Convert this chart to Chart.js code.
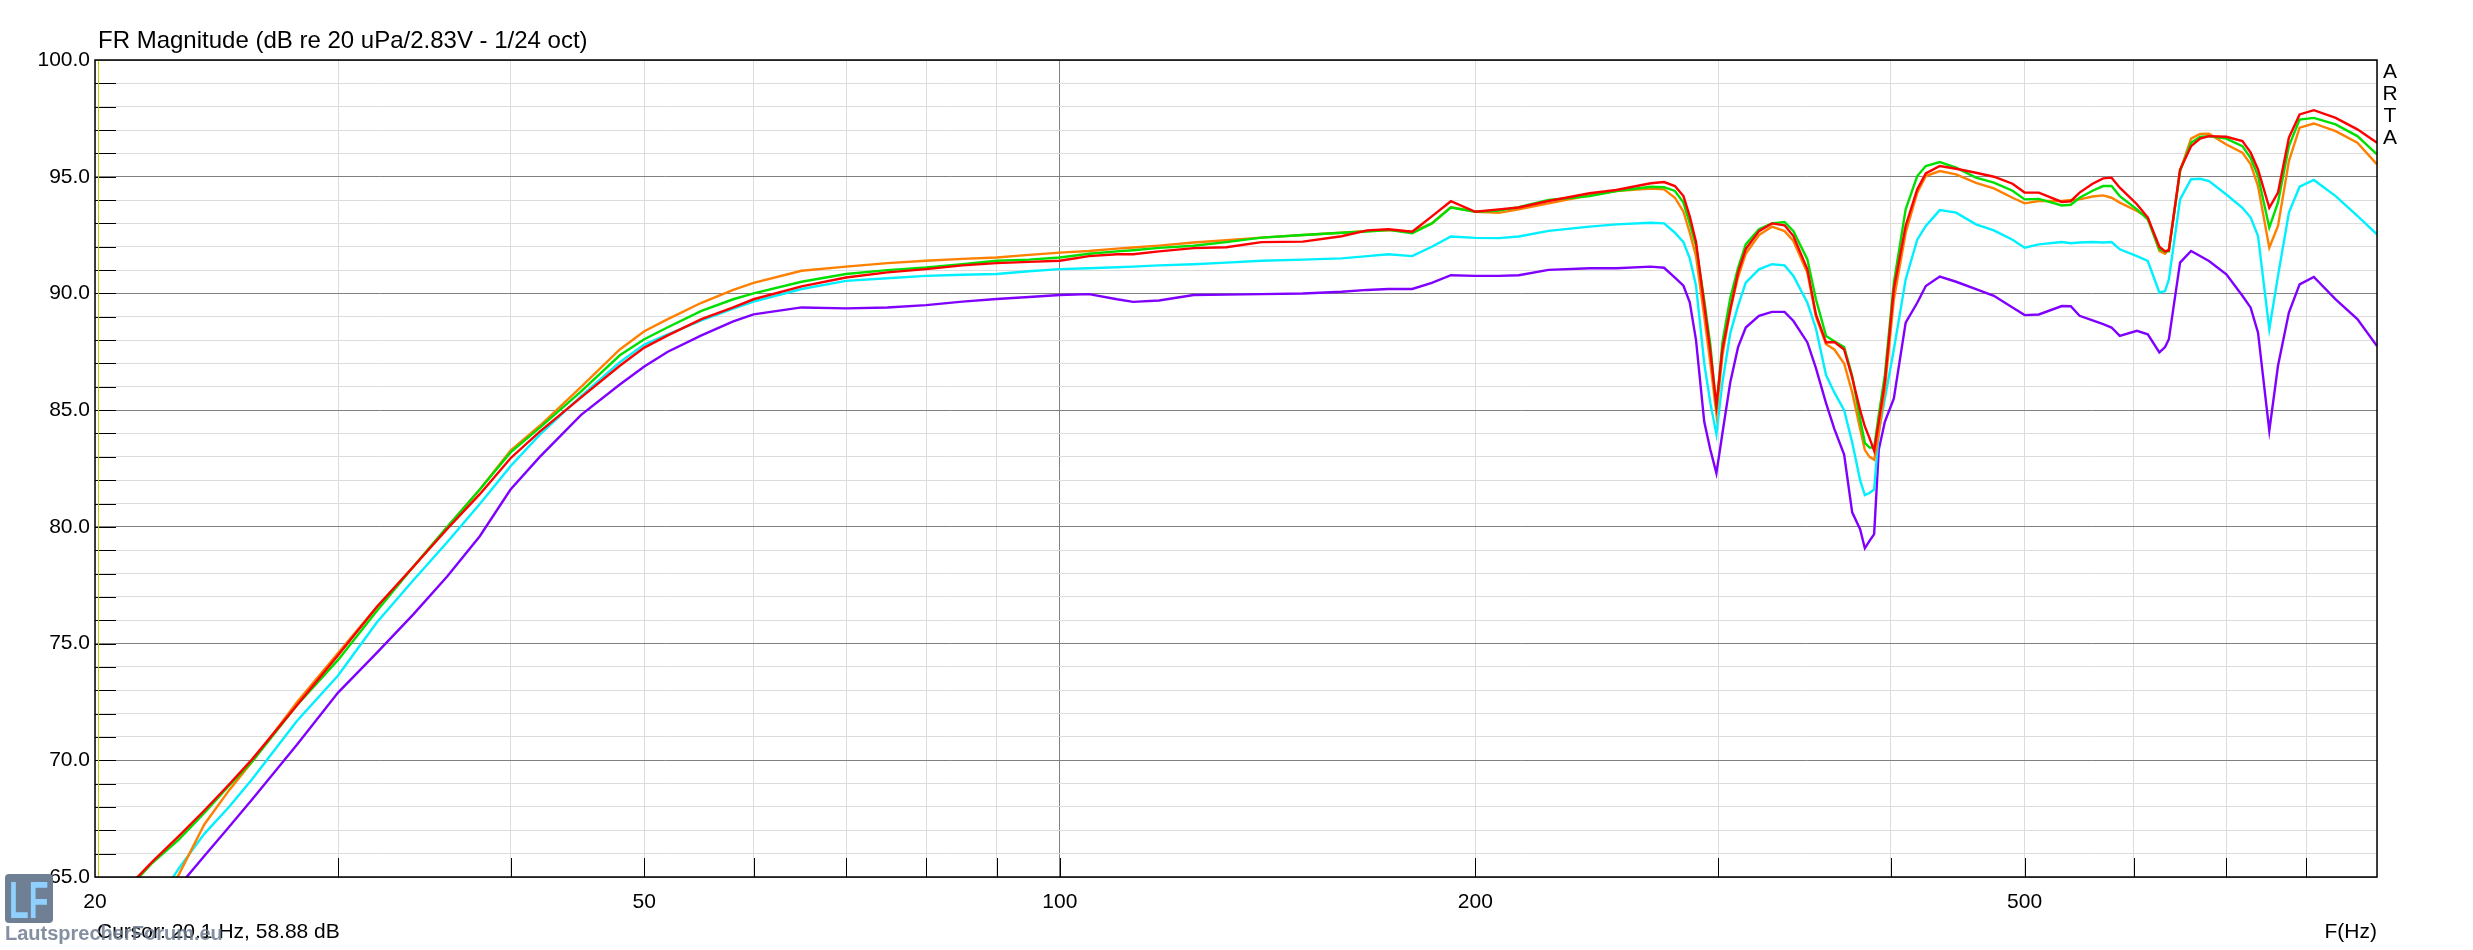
<!DOCTYPE html>
<html>
<head>
<meta charset="utf-8">
<title>FR Magnitude</title>
<script src="https://cdn.jsdelivr.net/npm/chart.js@4.4.1/dist/chart.umd.min.js"></script>
<style>
    body { margin: 0; background: #ffffff; }
    #wrap { width: 2473px; height: 950px; position: relative; }
</style>
</head>
<body>
<div id="wrap"><canvas id="frChart"></canvas></div>
<script>
// frequency points (Hz)
const freqHz = [
    20, 21, 22, 23, 24, 25, 26, 28, 30, 32,
    34, 36, 38, 40, 42, 45, 48, 50, 52, 55,
    58, 60, 65, 70, 75, 80, 85, 90, 95, 100,
    105, 110, 113, 118, 125, 132, 140, 150, 160, 167,
    173, 180, 186, 192, 200, 208, 215, 226, 242, 253,
    268, 274, 279, 283, 286, 289, 293, 296, 299, 302,
    306, 310, 314, 321, 328, 335, 340, 348, 353, 359,
    364, 370, 375, 380, 383, 386, 389, 392, 396, 402,
    410, 418, 424, 434, 446, 461, 475, 490, 500, 512,
    532, 540, 548, 560, 570, 578, 586, 603, 614, 626,
    632, 636, 648, 660, 670, 680, 700, 719, 729, 738,
    752, 763, 777, 791, 810, 840, 871, 900
];

// SPL in dB for each measurement
const splRed = [
    63.0, 64.4, 65.65, 66.75, 67.85, 68.95, 70.05, 72.35, 74.5, 76.57,
    78.28, 79.92, 81.4, 82.94, 84.08, 85.55, 86.9, 87.68, 88.2, 88.9,
    89.4, 89.75, 90.3, 90.68, 90.9, 91.04, 91.2, 91.3, 91.35, 91.4,
    91.6, 91.68, 91.68, 91.8, 91.94, 91.98, 92.2, 92.22, 92.45, 92.7,
    92.75, 92.64, 93.3, 93.95, 93.5, 93.6, 93.68, 93.96, 94.29, 94.43,
    94.72, 94.77, 94.6, 94.17, 93.3, 92.2, 89.5, 87.5, 85.2, 87.6,
    89.3, 90.9, 91.9, 92.67, 93.0, 92.92, 92.46, 91.03, 89.1, 87.9,
    87.92, 87.6, 86.4, 85.0, 84.3, 83.8, 83.26, 84.5, 86.2, 90.2,
    92.9, 94.46, 95.14, 95.46, 95.34, 95.17, 95.0, 94.7, 94.32, 94.32,
    93.92, 93.95, 94.32, 94.7, 94.93, 94.96, 94.53, 93.82, 93.25, 92.0,
    91.8, 91.85, 95.31, 96.31, 96.63, 96.74, 96.71, 96.53, 96.03, 95.31,
    93.67, 94.32, 96.67, 97.67, 97.85, 97.52, 97.03, 96.46
];
const splGreen = [
    62.9, 64.3, 65.6, 66.6, 67.75, 68.9, 69.95, 72.35, 74.3, 76.4,
    78.28, 80.0, 81.6, 83.19, 84.25, 85.8, 87.35, 88.04, 88.55, 89.25,
    89.75, 90.0, 90.5, 90.83, 91.0, 91.11, 91.25, 91.4, 91.45, 91.54,
    91.7, 91.8, 91.85, 91.95, 92.04, 92.2, 92.39, 92.5, 92.6, 92.65,
    92.72, 92.58, 93.0, 93.68, 93.5, 93.55, 93.7, 94.0, 94.17, 94.39,
    94.57, 94.55, 94.39, 93.89, 93.0, 92.04, 89.7, 87.8, 85.04, 87.9,
    89.8, 91.1, 92.1, 92.75, 93.0, 93.06, 92.67, 91.46, 89.75, 88.18,
    87.95, 87.7, 86.47, 84.6, 83.6, 83.4, 83.4, 84.8, 86.5, 90.46,
    93.6, 95.03, 95.46, 95.63, 95.39, 94.96, 94.75, 94.4, 94.03, 94.05,
    93.77, 93.8, 94.1, 94.4, 94.6, 94.6, 94.17, 93.6, 93.17, 91.89,
    91.8, 91.8, 95.24, 96.45, 96.71, 96.74, 96.63, 96.31, 95.8, 95.03,
    92.82, 93.9, 96.31, 97.45, 97.52, 97.24, 96.74, 95.96
];
const splOrange = [
    58.9, 61.2, 63.2, 65.1, 67.25, 68.7, 69.95, 72.48, 74.6, 76.57,
    78.28, 80.0, 81.6, 83.27, 84.33, 86.0, 87.6, 88.38, 88.9, 89.6,
    90.15, 90.45, 90.97, 91.15, 91.3, 91.4, 91.48, 91.54, 91.65, 91.75,
    91.82, 91.92, 91.97, 92.05, 92.18, 92.28, 92.39, 92.5, 92.6, 92.68,
    92.72, 92.64, 93.0, 93.7, 93.5, 93.45, 93.6, 93.86, 94.2, 94.39,
    94.49, 94.46, 94.1, 93.5, 92.6, 91.6, 89.0, 87.0, 84.83, 87.33,
    89.3, 90.7, 91.7, 92.5, 92.86, 92.67, 92.25, 90.89, 89.0, 87.82,
    87.6, 87.0, 85.76, 84.2, 83.3, 83.0, 82.87, 84.0, 85.9, 89.75,
    92.6, 94.32, 95.03, 95.24, 95.1, 94.74, 94.5, 94.1, 93.86, 93.96,
    93.96, 94.0, 94.03, 94.15, 94.2, 94.1, 93.89, 93.53, 93.25, 91.82,
    91.7, 91.9, 95.24, 96.63, 96.83, 96.84, 96.38, 96.03, 95.53, 94.6,
    91.96, 92.89, 95.67, 97.1, 97.28, 96.95, 96.46, 95.53
];
const splCyan = [
    60.4, 62.0, 63.6, 65.37, 66.85, 67.99, 69.2, 71.67, 73.63, 75.9,
    77.7, 79.35, 80.98, 82.6, 83.95, 85.6, 87.05, 87.81, 88.25, 88.85,
    89.35, 89.65, 90.19, 90.54, 90.65, 90.75, 90.8, 90.83, 90.95, 91.04,
    91.08, 91.12, 91.15, 91.2, 91.25, 91.32, 91.4, 91.45, 91.5, 91.6,
    91.68, 91.6, 92.0, 92.44, 92.38, 92.37, 92.44, 92.68, 92.86, 92.96,
    93.03, 93.0, 92.6, 92.2, 91.5, 90.33, 87.0, 85.3, 83.97, 86.18,
    88.3, 89.47, 90.46, 91.03, 91.25, 91.2, 90.75, 89.6, 88.5, 86.5,
    85.76, 85.0, 83.62, 82.0, 81.36, 81.45, 81.6, 84.04, 85.5, 87.6,
    90.6, 92.3, 92.89, 93.57, 93.46, 92.96, 92.7, 92.3, 91.96, 92.1,
    92.2, 92.15, 92.18, 92.2, 92.18, 92.2, 91.89, 91.6, 91.39, 90.04,
    90.1, 90.6, 94.03, 94.89, 94.91, 94.81, 94.24, 93.67, 93.25, 92.46,
    88.47, 90.75, 93.46, 94.57, 94.86, 94.17, 93.32, 92.53
];
const splPurple = [
    60.3, 61.7, 63.2, 64.6, 65.9, 67.13, 68.33, 70.65, 72.9, 74.6,
    76.24, 77.88, 79.6, 81.6, 83.0, 84.8, 86.1, 86.87, 87.5, 88.2,
    88.8, 89.1, 89.4, 89.36, 89.4, 89.5, 89.65, 89.76, 89.85, 89.93,
    89.97, 89.75, 89.64, 89.7, 89.93, 89.95, 89.97, 90.0, 90.07, 90.15,
    90.19, 90.19, 90.45, 90.78, 90.75, 90.75, 90.78, 91.01, 91.08, 91.08,
    91.15, 91.1, 90.68, 90.33, 89.62, 88.0, 84.5, 83.3, 82.3, 84.0,
    86.2, 87.7, 88.54, 89.04, 89.21, 89.21, 88.82, 87.9, 86.8, 85.3,
    84.2, 83.1, 80.62, 79.9, 79.08, 79.4, 79.69, 83.3, 84.5, 85.5,
    88.75, 89.6, 90.32, 90.72, 90.5, 90.18, 89.9, 89.4, 89.07, 89.1,
    89.46, 89.45, 89.04, 88.85, 88.68, 88.54, 88.18, 88.4, 88.25, 87.47,
    87.7, 88.04, 91.32, 91.82, 91.6, 91.39, 90.82, 89.9, 89.39, 88.32,
    84.12, 86.9, 89.18, 90.39, 90.71, 89.75, 88.9, 87.75
];

// axis ticks
const xGridValues = [20, 30, 40, 50, 60, 70, 80, 90, 100, 200, 300, 400, 500, 600, 700, 800, 900];
const xLabelValues = [20, 50, 100, 200, 500];
const yMin = 65;
const yMax = 100;

// texts
const titleText = 'FR Magnitude (dB re 20 uPa/2.83V - 1/24 oct)';
const cursorText = 'Cursor: 20.1 Hz, 58.88 dB';
const cursorFreq = 20.1;
const axisUnitText = 'F(Hz)';
const brandLetters = ['A', 'R', 'T', 'A'];
const watermarkText = 'LautsprecherForum.eu';

const fontFamily = '"Liberation Sans", Arial, sans-serif';
Chart.defaults.font.family = fontFamily;

function toPoints(values) {
    return freqHz.map((f, i) => ({ x: f, y: values[i] }));
}

// frame, inner tick marks, cursor and the labels round the plot
const artaDecor = {
    id: 'artaDecor',
    beforeDraw(chart) {
        const ctx = chart.ctx;
        ctx.save();
        ctx.fillStyle = '#ffffff';
        ctx.fillRect(0, 0, chart.width, chart.height);
        ctx.restore();
    },
    beforeDatasetsDraw(chart) {
        const ctx = chart.ctx;
        const area = chart.chartArea;
        const xs = chart.scales.x;
        const ys = chart.scales.y;
        ctx.save();
        ctx.strokeStyle = '#000000';
        ctx.lineWidth = 1;
        ctx.beginPath();
        for (let v = yMin + 1; v < yMax; v++) {
            const py = Math.round(ys.getPixelForValue(v)) + 0.5;
            ctx.moveTo(area.left, py);
            ctx.lineTo(area.left + 21, py);
        }
        xGridValues.forEach(v => {
            if (v <= 20 || v >= 900) return;
            const px = Math.round(xs.getPixelForValue(v)) + 0.5;
            ctx.moveTo(px, area.bottom);
            ctx.lineTo(px, area.bottom - 19);
        });
        ctx.stroke();
        ctx.restore();
    },
    afterDraw(chart) {
        const ctx = chart.ctx;
        const area = chart.chartArea;
        const xs = chart.scales.x;
        ctx.save();

        // cursor line
        const cx = Math.round(xs.getPixelForValue(cursorFreq)) + 0.5;
        ctx.strokeStyle = '#c8c800';
        ctx.lineWidth = 1;
        ctx.beginPath();
        ctx.moveTo(cx, area.top);
        ctx.lineTo(cx, area.bottom);
        ctx.stroke();

        // frame
        ctx.strokeStyle = '#000000';
        ctx.lineWidth = 1.5;
        ctx.strokeRect(area.left, area.top, area.right - area.left, area.bottom - area.top);

        ctx.fillStyle = '#000000';
        ctx.textBaseline = 'middle';

        ctx.font = '24px ' + fontFamily;
        ctx.textAlign = 'left';
        ctx.fillText(titleText, area.left + 3, 41);

        ctx.font = '21px ' + fontFamily;
        ctx.textAlign = 'center';
        brandLetters.forEach((ch, i) => {
            ctx.fillText(ch, area.right + 13, area.top + 12 + i * 22);
        });

        ctx.textAlign = 'right';
        ctx.fillText(axisUnitText, area.right, 932);

        ctx.textAlign = 'left';
        ctx.fillText(cursorText, area.left + 2, 932);

        // LF logo
        ctx.fillStyle = '#6f7f94';
        ctx.beginPath();
        ctx.roundRect(5, 874, 48, 49, 4);
        ctx.fill();
        ctx.save();
        ctx.translate(9, 918);
        ctx.scale(0.62, 1);
        ctx.fillStyle = '#8fd0ff';
        ctx.font = 'bold 52px ' + fontFamily;
        ctx.textBaseline = 'alphabetic';
        ctx.fillText('LF', 0, 0);
        ctx.restore();

        ctx.fillStyle = 'rgba(110, 125, 145, 0.85)';
        ctx.font = 'bold 20px ' + fontFamily;
        ctx.textAlign = 'left';
        ctx.fillText(watermarkText, 5, 934);

        ctx.restore();
    }
};

const config = {
    type: 'line',
    data: {
        datasets: [
            { label: 'red', data: toPoints(splRed), borderColor: '#ff0000' },
            { label: 'green', data: toPoints(splGreen), borderColor: '#00e000' },
            { label: 'orange', data: toPoints(splOrange), borderColor: '#ff8000' },
            { label: 'cyan', data: toPoints(splCyan), borderColor: '#00f0ff' },
            { label: 'purple', data: toPoints(splPurple), borderColor: '#8000ff' }
        ]
    },
    options: {
        responsive: true,
        maintainAspectRatio: false,
        animation: false,
        parsing: false,
        layout: { padding: { left: 0, top: 60, right: 96, bottom: 0 } },
        elements: {
            point: { radius: 0 },
            line: { borderWidth: 2.4, tension: 0, fill: false }
        },
        plugins: {
            legend: { display: false },
            tooltip: { enabled: false },
            title: { display: false }
        },
        scales: {
            x: {
                type: 'logarithmic',
                min: 20,
                max: 900,
                afterBuildTicks: scale => {
                    scale.ticks = xGridValues.map(v => ({ value: v }));
                },
                afterFit: scale => { scale.height = 73; },
                ticks: {
                    autoSkip: false,
                    maxRotation: 0,
                    minRotation: 0,
                    padding: 13,
                    color: '#000000',
                    font: { size: 21 },
                    callback: v => xLabelValues.includes(v) ? String(v) : ''
                },
                grid: {
                    drawTicks: false,
                    lineWidth: 1,
                    color: ctx => (ctx.tick && ctx.tick.value === 100) ? '#808080' : '#dcdcdc'
                },
                border: { display: false }
            },
            y: {
                min: yMin,
                max: yMax,
                afterFit: scale => { scale.width = 95; },
                ticks: {
                    stepSize: 1,
                    autoSkip: false,
                    padding: 5,
                    color: '#000000',
                    font: { size: 21 },
                    callback: v => v % 5 === 0 ? v.toFixed(1) : ''
                },
                grid: {
                    drawTicks: false,
                    lineWidth: 1,
                    color: ctx => (ctx.tick && ctx.tick.value % 5 === 0) ? '#808080' : '#dcdcdc'
                },
                border: { display: false }
            }
        }
    },
    plugins: [artaDecor]
};

const frChart = new Chart(document.getElementById('frChart'), config);
</script>
</body>
</html>
